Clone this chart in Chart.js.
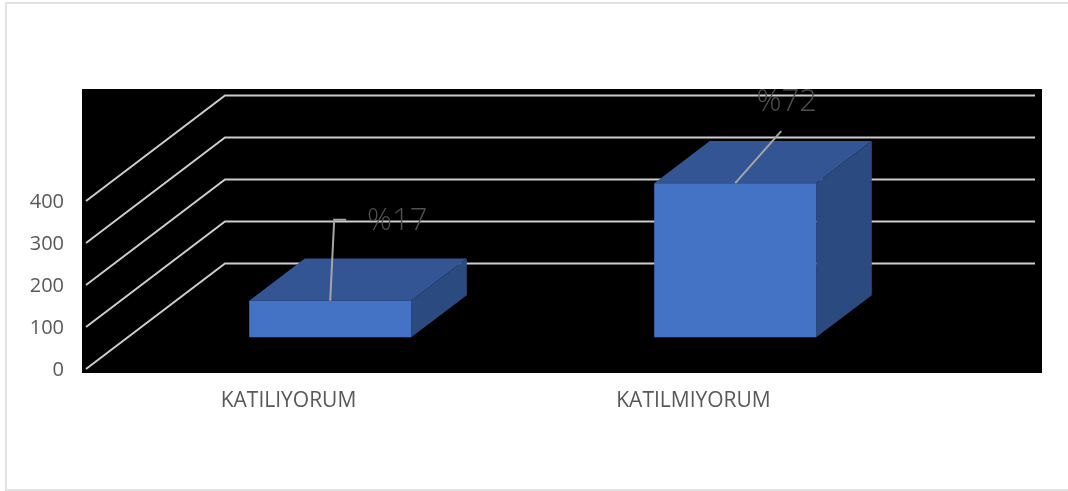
<!DOCTYPE html>
<html lang="tr">
<head>
<meta charset="utf-8">
<title>KATILIYORUM / KATILMIYORUM</title>
<script src="https://cdn.jsdelivr.net/npm/chart.js@4"></script>
<style>
    html, body { margin: 0; padding: 0; background: #fff; }
    canvas { display: block; }
</style>
</head>
<body>
<canvas id="chart" width="1068" height="491"></canvas>
<script>
const categories = ['KATILIYORUM', 'KATILMIYORUM'];
const answers = [87, 367];
const shareLabels = ['%17', '%72'];
const yTicks = [0, 100, 200, 300, 400];

// floor depth in px, bars stand in the middle 40% of it
const DEPTH_X = 139;
const DEPTH_Y = -105.5;
const BAR_START = 0.3;
const BAR_DEPTH = 0.4;

const FRONT = '#4472c4';
const TOP = '#335593';
const SIDE = '#2b4a80';

function face(ctx, pts, color) {
    ctx.beginPath();
    pts.forEach((p, i) => i ? ctx.lineTo(p[0], p[1]) : ctx.moveTo(p[0], p[1]));
    ctx.closePath();
    ctx.fillStyle = color;
    ctx.fill();
}

// black wall, slanted side gridlines and the outer frame
const wall = {
    id: 'wall',
    beforeDraw(chart) {
        const { ctx, chartArea: a, width, height } = chart;
        ctx.save();
        ctx.fillStyle = '#000';
        ctx.fillRect(a.left - 4, a.top + DEPTH_Y - 6.5, a.right - a.left + DEPTH_X + 11, a.bottom - a.top - DEPTH_Y + 10.5);

        ctx.strokeStyle = '#e2e2e2';
        ctx.lineWidth = 2;
        ctx.beginPath();
        ctx.moveTo(width, 3);
        ctx.lineTo(6, 3);
        ctx.lineTo(6, height - 1);
        ctx.lineTo(width, height - 1);
        ctx.stroke();

        ctx.strokeStyle = '#cdcdcd';
        ctx.lineWidth = 2;
        yTicks.forEach(t => {
            const y = chart.scales.y.getPixelForValue(t);
            ctx.beginPath();
            ctx.moveTo(a.left, y);
            ctx.lineTo(a.left + DEPTH_X, y + DEPTH_Y);
            ctx.lineTo(a.right + DEPTH_X, y + DEPTH_Y);
            ctx.stroke();
        });
        ctx.restore();
    }
};

// top and right faces, then the library draws the front face inside the shifted context
const bars3d = {
    id: 'bars3d',
    beforeDatasetsDraw(chart) {
        const { ctx } = chart;
        const dx = DEPTH_X * BAR_DEPTH;
        const dy = DEPTH_Y * BAR_DEPTH;
        ctx.save();
        ctx.translate(DEPTH_X * BAR_START, DEPTH_Y * BAR_START);
        chart.getDatasetMeta(0).data.forEach(bar => {
            const l = bar.x - bar.width / 2;
            const r = bar.x + bar.width / 2;
            face(ctx, [[l, bar.y], [l + dx, bar.y + dy], [r + dx, bar.y + dy], [r, bar.y]], TOP);
            face(ctx, [[r, bar.y], [r + dx, bar.y + dy], [r + dx, bar.base + dy], [r, bar.base]], SIDE);
        });
    },
    afterDatasetsDraw(chart) {
        chart.ctx.restore();
    }
};

// percent labels with their leader lines, offsets are from the middle of each bar top
const leaders = [
    { bend: [4, -81], end: [16, -81], text: [67, -80] },
    { bend: [46, -52], end: [46, -52], text: [51.5, -81.5] }
];

const shares = {
    id: 'shares',
    afterDatasetsDraw(chart) {
        const { ctx } = chart;
        ctx.save();
        chart.getDatasetMeta(0).data.forEach((bar, i) => {
            const x = bar.x + DEPTH_X * BAR_START;
            const y = bar.y + DEPTH_Y * BAR_START;
            const l = leaders[i];
            ctx.strokeStyle = '#a6a6a6';
            ctx.lineWidth = 2;
            ctx.beginPath();
            ctx.moveTo(x, y);
            ctx.lineTo(x + l.bend[0], y + l.bend[1]);
            ctx.lineTo(x + l.end[0], y + l.end[1]);
            ctx.stroke();

            ctx.fillStyle = '#505050';
            ctx.font = '300 31px "Open Sans"';
            ctx.textAlign = 'center';
            ctx.textBaseline = 'middle';
            ctx.fillText(shareLabels[i], x + l.text[0], y + l.text[1]);
        });
        ctx.restore();
    }
};

new Chart(document.getElementById('chart'), {
    type: 'bar',
    data: {
        labels: categories,
        datasets: [{
            data: answers,
            backgroundColor: FRONT,
            borderWidth: 0,
            barPercentage: 0.4,
            categoryPercentage: 1,
            clip: false
        }]
    },
    options: {
        responsive: false,
        animation: false,
        layout: { padding: { top: 201, right: 172, bottom: 62, left: 0 } },
        plugins: { legend: { display: false }, tooltip: { enabled: false } },
        scales: {
            x: {
                grid: { display: false, drawTicks: false },
                border: { display: false },
                afterFit: s => { s.height = 60; },
                ticks: { color: '#595959', maxRotation: 0, padding: 19, font: { family: '"Open Sans"', size: 21 } }
            },
            y: {
                min: 0,
                max: 400,
                grid: { display: false, drawTicks: false },
                border: { display: false },
                afterFit: s => { s.width = 86; },
                ticks: { stepSize: 100, color: '#595959', padding: 22, labelOffset: 1.5, font: { family: '"Open Sans"', size: 20 } }
            }
        }
    },
    plugins: [wall, bars3d, shares]
});
</script>
</body>
</html>
